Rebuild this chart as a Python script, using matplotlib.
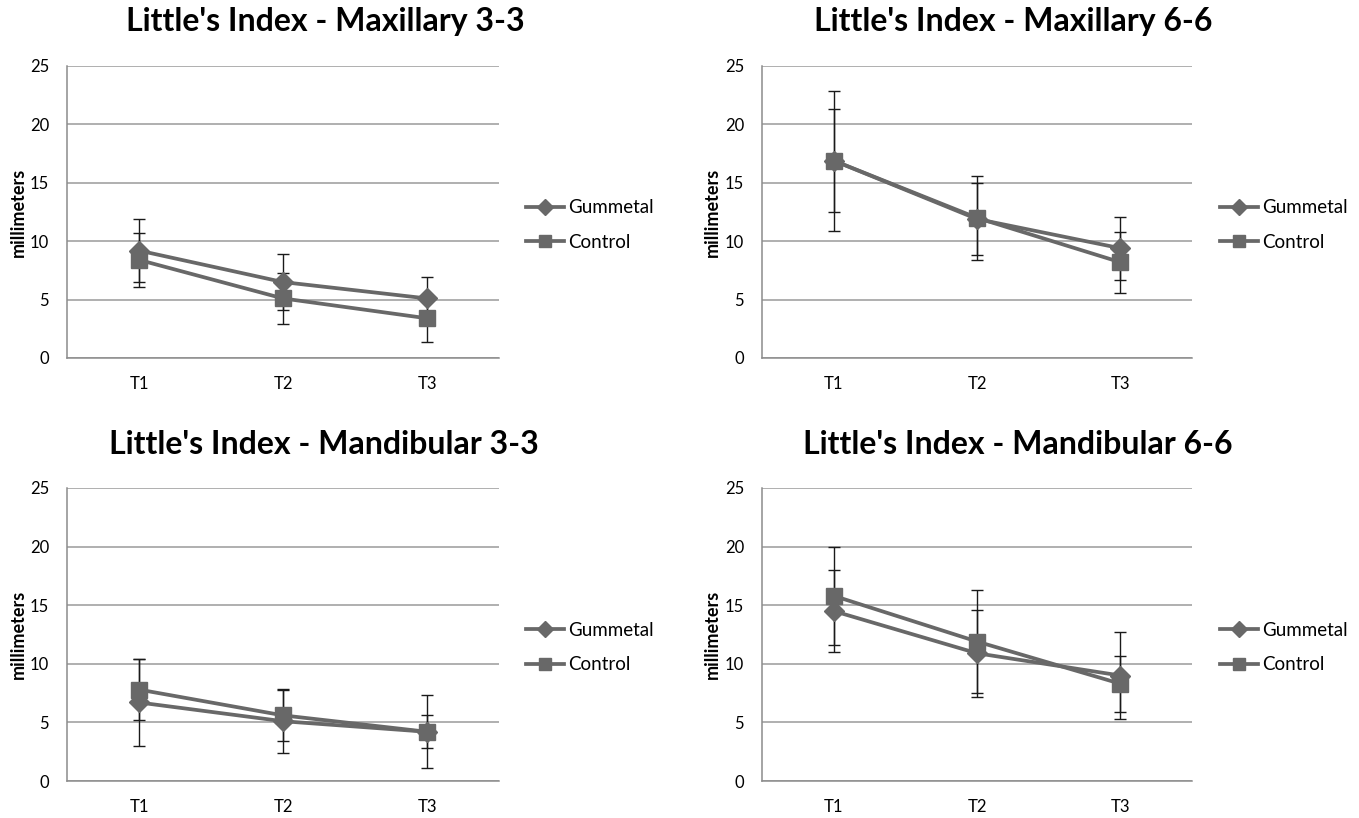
import matplotlib
matplotlib.use("Agg")
import matplotlib.pyplot as plt
from matplotlib.lines import Line2D

plt.rcParams['font.family'] = ['Lato', 'DejaVu Sans']

categories = ["T1", "T2", "T3"]
series_names = ["Gummetal", "Control"]
titles = ["Little's Index - Maxillary 3-3", "Little's Index - Maxillary 6-6",
          "Little's Index - Mandibular 3-3", "Little's Index - Mandibular 6-6"]

# means and standard deviations (mm)
max33_gum = [9.2, 6.5, 5.1]
max33_gum_sd = [2.7, 2.4, 1.8]
max33_ctl = [8.4, 5.1, 3.4]
max33_ctl_sd = [2.3, 2.2, 2.0]

max66_gum = [16.9, 11.9, 9.4]
max66_gum_sd = [6.0, 3.1, 2.7]
max66_ctl = [16.9, 12.0, 8.2]
max66_ctl_sd = [4.4, 3.6, 2.6]

man33_gum = [6.7, 5.1, 4.2]
man33_gum_sd = [3.7, 2.75, 3.1]
man33_ctl = [7.8, 5.6, 4.2]
man33_ctl_sd = [2.6, 2.2, 1.4]

man66_gum = [14.5, 10.9, 9.0]
man66_gum_sd = [3.5, 3.7, 3.7]
man66_ctl = [15.8, 11.9, 8.3]
man66_ctl_sd = [4.2, 4.4, 2.4]

yticks = [0, 5, 10, 15, 20, 25]

panels = [
    (max33_gum, max33_gum_sd, max33_ctl, max33_ctl_sd),
    (max66_gum, max66_gum_sd, max66_ctl, max66_ctl_sd),
    (man33_gum, man33_gum_sd, man33_ctl, man33_ctl_sd),
    (man66_gum, man66_gum_sd, man66_ctl, man66_ctl_sd),
]

W, H = 1359, 818
fig = plt.figure(figsize=(W / 100, H / 100), dpi=100)
fig.patch.set_facecolor('white')

# pixel boxes: left, right, top, bottom
boxes = [(67, 499, 66, 358), (762, 1192, 66, 358),
         (67, 499, 488, 781), (762, 1192, 488, 781)]
title_pos = [(325, 22), (1013, 22), (324, 445), (1018, 445)]
ylabel_x = [18, 712, 18, 712]
legend_left = [526, 1220, 526, 1220]

line_col = '#686868'
x = list(range(len(categories)))

for i, ((l, r, t, b), title, (g, gsd, c, csd)) in enumerate(zip(boxes, titles, panels)):
    ax = fig.add_axes([l / W, 1 - b / H, (r - l) / W, (b - t) / H])
    ax.set_xlim(-0.5, 2.5)
    ax.set_ylim(0, 25)
    ax.set_yticks(yticks)
    ax.set_xticks(x)
    ax.set_xticklabels(categories)
    ax.grid(axis='y', color='#9a9a9a', linewidth=1.1)
    ax.set_axisbelow(True)
    for s in ['top', 'right']:
        ax.spines[s].set_visible(False)
    for s in ['left', 'bottom']:
        ax.spines[s].set_color('#8c8c8c')
        ax.spines[s].set_linewidth(1.1)
    ax.tick_params(length=0, labelsize=12, colors='black', pad=13)
    ax.tick_params(axis='x', pad=13)

    ax.errorbar(x, g, yerr=gsd, fmt='none', ecolor='#1a1a1a', elinewidth=1.0,
                capsize=4, capthick=1.0, zorder=2)
    ax.errorbar(x, c, yerr=csd, fmt='none', ecolor='#1a1a1a', elinewidth=1.0,
                capsize=4, capthick=1.0, zorder=2)
    ax.plot(x, g, color=line_col, linewidth=2.7, marker='D', markersize=10,
            label=series_names[0], zorder=3)
    ax.plot(x, c, color=line_col, linewidth=2.7, marker='s', markersize=11.5,
            label=series_names[1], zorder=3)

    fig.text(ylabel_x[i] / W, 1 - ((t + b) / 2) / H, 'millimeters', rotation=90,
             ha='center', va='center', fontsize=13, fontweight='bold')
    tx, ty = title_pos[i]
    fig.text(tx / W, 1 - ty / H, title, ha='center', va='center',
             fontsize=23, fontweight='bold')

    cy = (t + b) / 2 + 13
    leg = ax.legend(loc='center left',
                    bbox_to_anchor=(legend_left[i] / W, 1 - cy / H),
                    bbox_transform=fig.transFigure, frameon=False,
                    fontsize=13.5, handlelength=2.0, handletextpad=0.25,
                    labelspacing=0.95, borderpad=0, borderaxespad=0)
    for h in leg.legend_handles:
        h.set_markersize(8)

fig.savefig('out.png', dpi=100, facecolor='white')
